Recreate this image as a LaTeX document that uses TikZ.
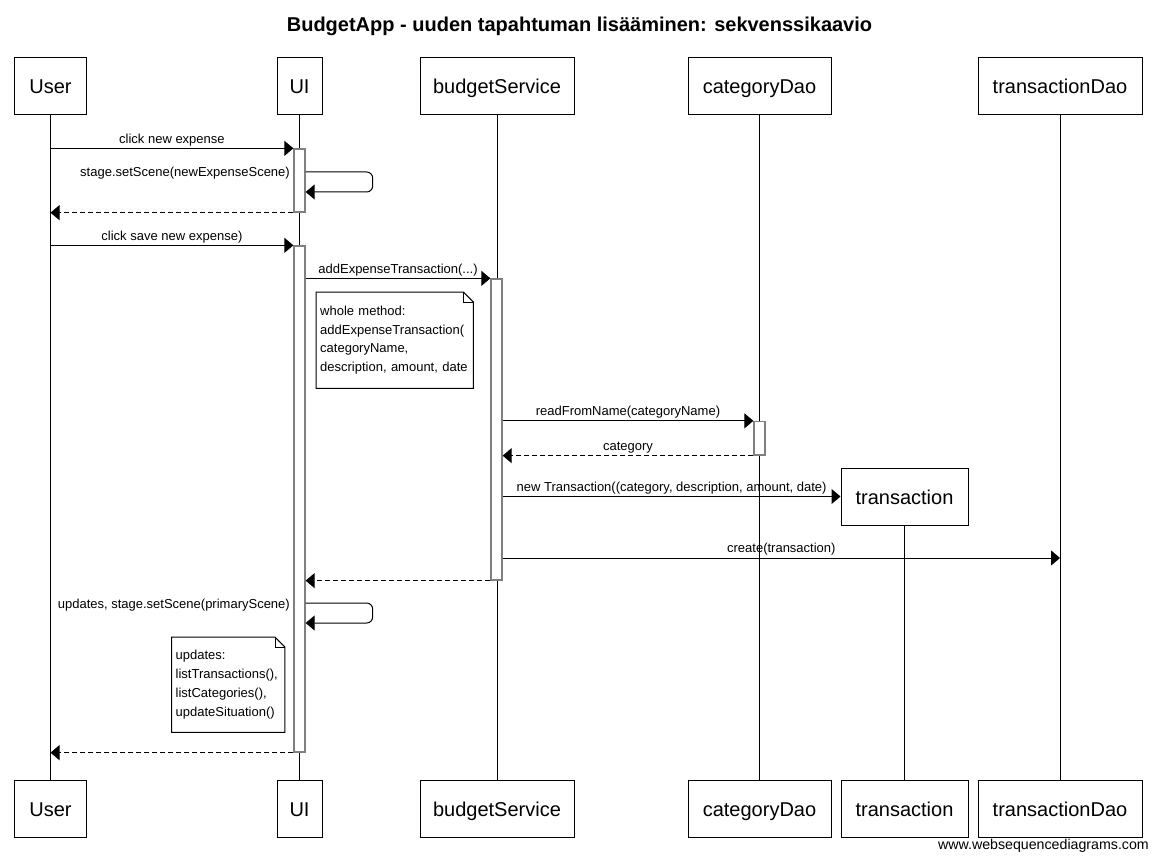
\documentclass[tikz,border=0pt]{standalone}
\usepackage{fontspec}
\setmainfont{Liberation Sans}
\usetikzlibrary{arrows.meta,calc,positioning}

\tikzset{
  actor/.style={draw, fill=white, line width=1pt, inner sep=0pt, minimum height=57pt, text height=17pt, text depth=2pt, font=\fontsize{20}{24}\selectfont},
  life/.style={line width=1pt},
  act/.style={draw=gray, fill=white, line width=1.3pt, inner sep=0pt, minimum width=11pt},
  msg/.style={line width=1pt, -{Triangle[length=9pt,width=15pt]}},
  ret/.style={msg, dash pattern=on 5pt off 3pt},
  lbl/.style={font=\fontsize{13}{16}\selectfont, inner sep=0pt, midway, above=2pt},
  slbl/.style={font=\fontsize{13}{16}\selectfont, inner sep=0pt, anchor=east},
  notebox/.style={fill=white, inner xsep=4pt, inner ysep=0pt, align=left, anchor=north west, font=\fontsize{13}{18.8}\selectfont},
}

\begin{document}
\begin{tikzpicture}[x=1pt,y=-1pt]
\useasboundingbox (0,0) rectangle (1157,861);

% Title
\node[font=\bfseries\fontsize{20}{24}\selectfont] (title) at (579.5,26) {BudgetApp - uuden tapahtuman lisääminen: sekvenssikaavio};

% Participants (top)
\node[actor, minimum width=72pt] (user) at (50.5,86.5) {User};
\node[actor, minimum width=45pt] (ui) at (299.5,86.5) {UI};
\node[actor, minimum width=154pt] (bs) at (497,86.5) {budgetService};
\node[actor, minimum width=143pt] (cdao) at (759.5,86.5) {categoryDao};
\node[actor, minimum width=164pt] (tdao) at (1060,86.5) {transactionDao};
% Participants (bottom)
\node[actor, minimum width=72pt] (userB) at (50.5,808.5) {User};
\node[actor, minimum width=45pt] (uiB) at (299.5,808.5) {UI};
\node[actor, minimum width=154pt] (bsB) at (497,808.5) {budgetService};
\node[actor, minimum width=143pt] (cdaoB) at (759.5,808.5) {categoryDao};
\node[actor, minimum width=127pt] (trnB) at (904.5,808.5) {transaction};
\node[actor, minimum width=164pt] (tdaoB) at (1060,808.5) {transactionDao};
% created object
\node[actor, minimum width=127pt] (trn) at (904.5,496.5) {transaction};

% Lifelines
\draw[life] (user.south) -- (userB.north);
\draw[life] (ui.south) -- (uiB.north);
\draw[life] (bs.south) -- (bsB.north);
\draw[life] (cdao.south) -- (cdaoB.north);
\draw[life] (trn.south) -- (trnB.north);
\draw[life] (tdao.south) -- (tdaoB.north);

% Activations
\node[act, minimum height=63pt] (a1) at (299.5,180.5) {};
\node[act, minimum height=506pt] (a2) at (299.5,499) {};
\node[act, minimum height=301pt] (a3) at (496.5,429.5) {};
\node[act, minimum height=33.5pt] (a4) at (759.5,438.25) {};

% Messages
\draw[msg] (user |- a1.north) -- node[lbl] (l1) {click new expense} (a1.north west);
\draw[msg, rounded corners=6pt] (a1.east |- 0,172) -- ++(67,0) -- ++(0,20) -- (a1.east |- 0,192);
\node[slbl] (l2) at (290,173) {stage.setScene(newExpenseScene)};
\draw[ret] (a1.south west) -- (user |- a1.south);
\draw[msg] (user |- a2.north) -- node[lbl] (l3) {click save new expense)} (a2.north west);
\draw[msg] (a2.east |- a3.north) -- node[lbl] (l4) {addExpenseTransaction(...)} (a3.north west);

% Note
\node[notebox, minimum width=157pt, minimum height=96pt, text width=149pt] (n1) at (316,292)
  {whole method:\\addExpenseTransaction(\\categoryName,\\description, amount, date};
\draw[line width=1pt] (n1.south west) -- (n1.north west) -- ($(n1.north east)+(-10,0)$) -- ($(n1.north east)+(0,10)$) -- (n1.south east) -- cycle;
\draw[line width=0.8pt] ($(n1.north east)+(-10,0)$) -- ($(n1.north east)+(-10,10)$) -- ($(n1.north east)+(0,10)$);

\draw[msg] (a3.east |- a4.north) -- node[lbl] (l5) {readFromName(categoryName)} (a4.north west);
\draw[ret] (a4.south west) -- node[lbl] (l6) {category} (a3.east |- a4.south);
\draw[msg] (a3.east |- trn.west) -- node[lbl] (l7) {new Transaction((category, description, amount, date)} (trn.west);
\coordinate (cr) at (tdao |- 0,558);
\draw[msg] (a3.east |- cr) -- node[lbl] (l8) {create(transaction)} (cr);
\draw[ret] (a3.south west) -- (a2.east |- a3.south);
\draw[msg, rounded corners=6pt] (a2.east |- 0,603) -- ++(67,0) -- ++(0,20) -- (a2.east |- 0,623);
\node[slbl] (l9) at (290,605) {updates, stage.setScene(primaryScene)};

% Note
\node[notebox, minimum width=113pt, minimum height=95pt, text width=105pt] (n2) at (171.5,637)
  {updates:\\listTransactions(),\\listCategories(),\\updateSituation()};
\draw[line width=1pt] (n2.south west) -- (n2.north west) -- ($(n2.north east)+(-10,0)$) -- ($(n2.north east)+(0,10)$) -- (n2.south east) -- cycle;
\draw[line width=0.8pt] ($(n2.north east)+(-10,0)$) -- ($(n2.north east)+(-10,10)$) -- ($(n2.north east)+(0,10)$);

\draw[ret] (a2.south west) -- (user |- a2.south);

% Text Node
\node[font=\fontsize{14.2}{17}\selectfont, inner sep=0pt, anchor=east] (wsd) at (1149,846) {www.websequencediagrams.com};
\end{tikzpicture}
\end{document}
